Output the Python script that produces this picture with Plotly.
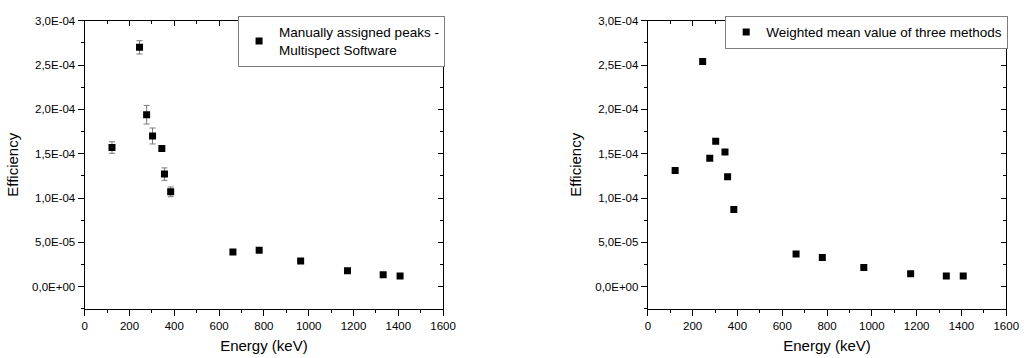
import plotly.graph_objects as go

# ---- data ----
energy_left = [121.8, 244.7, 276.4, 302.9, 344.3, 356.0, 383.8, 661.7, 778.9, 964.1, 1173.2, 1332.5, 1408.0]
eff_left = [1.57e-4, 2.70e-4, 1.94e-4, 1.70e-4, 1.56e-4, 1.27e-4, 1.07e-4, 3.9e-5, 4.1e-5, 2.9e-5, 1.8e-5, 1.35e-5, 1.2e-5]
err_left = [6.5e-6, 7.5e-6, 1.05e-5, 9.0e-6, 2.5e-6, 7.0e-6, 5.5e-6, 1.5e-6, 1.5e-6, 1.2e-6, 1.0e-6, 1.0e-6, 1.0e-6]

energy_right = [121.8, 244.7, 276.4, 302.9, 344.3, 356.0, 383.8, 661.7, 778.9, 964.1, 1173.2, 1332.5, 1408.0]
eff_right = [1.31e-4, 2.54e-4, 1.45e-4, 1.64e-4, 1.52e-4, 1.24e-4, 8.7e-5, 3.7e-5, 3.3e-5, 2.15e-5, 1.45e-5, 1.2e-5, 1.2e-5]

name_left = "Manually assigned peaks -<br>Multispect Software"
name_right = "Weighted mean value of three methods"

y_tickvals = [0, 5e-5, 1e-4, 1.5e-4, 2e-4, 2.5e-4, 3e-4]
y_ticktext = ["0,0E+00", "5,0E-05", "1,0E-04", "1,5E-04", "2,0E-04", "2,5E-04", "3,0E-04"]
x_tickvals = [0, 200, 400, 600, 800, 1000, 1200, 1400, 1600]
x_ticktext = [str(v) for v in x_tickvals]

x_title = "Energy (keV)"
y_title = "Efficiency"

FONT = "Liberation Sans, Arial, sans-serif"
W, H = 1034, 358
xrange_ = [0, 1600]
yrange_ = [-2.5e-5, 3.0e-4]

fig = go.Figure()
fig.add_trace(go.Scatter(
    x=energy_left, y=eff_left, mode="markers", name=name_left,
    marker=dict(symbol="square", size=7, color="black"),
    error_y=dict(type="data", array=err_left, visible=True, color="#7a7a7a", thickness=1, width=3),
    xaxis="x", yaxis="y", legend="legend",
))
fig.add_trace(go.Scatter(
    x=energy_right, y=eff_right, mode="markers", name=name_right,
    marker=dict(symbol="square", size=7, color="black"),
    xaxis="x2", yaxis="y2", legend="legend2",
))

dom_x1 = [83 / W, 447 / W]
dom_x2 = [655 / W, 1019 / W]
dom_y = [(H - 308) / H, (H - 15) / H]

tickfont = dict(family=FONT, size=11.5, color="black")
titlefont = dict(family=FONT, size=15, color="black")


def xax(domain, anchor):
    return dict(domain=domain, anchor=anchor, range=xrange_, tickmode="array",
                tickvals=x_tickvals, ticktext=x_ticktext, ticks="outside", ticklen=6,
                tickwidth=1.2, tickcolor="black", showline=True, linecolor="black", linewidth=1.3,
                showgrid=False, zeroline=False, tickfont=tickfont,
                title=dict(text=x_title, font=titlefont, standoff=9),
                minor=dict(tick0=0, dtick=100, ticks="outside", ticklen=3, tickcolor="black", showgrid=False))


def yax(domain, anchor):
    return dict(domain=domain, anchor=anchor, range=yrange_, tickmode="array",
                tickvals=y_tickvals, ticktext=y_ticktext, ticks="outside", ticklen=6,
                tickwidth=1.2, tickcolor="black", showline=True, linecolor="black", linewidth=1.3,
                showgrid=False, zeroline=False, tickfont=tickfont,
                title=dict(text=y_title, font=titlefont, standoff=9),
                minor=dict(tick0=0, dtick=2.5e-5, ticks="outside", ticklen=3, tickcolor="black", showgrid=False))


def xmirror(over, anchor):
    return dict(overlaying=over, anchor=anchor, side="top", range=xrange_, tickmode="array",
                tickvals=x_tickvals, ticks="inside", ticklen=5, tickcolor="black", tickwidth=1.2,
                showticklabels=False, showline=True, linecolor="black", linewidth=1.3,
                showgrid=False, zeroline=False,
                minor=dict(tick0=0, dtick=100, ticks="inside", ticklen=3, tickcolor="black", showgrid=False))


def ymirror(over, anchor):
    return dict(overlaying=over, anchor=anchor, side="right", range=yrange_, tickmode="array",
                tickvals=y_tickvals, ticks="inside", ticklen=5, tickcolor="black", tickwidth=1.2,
                showticklabels=False, showline=True, linecolor="black", linewidth=1.3,
                showgrid=False, zeroline=False,
                minor=dict(tick0=0, dtick=2.5e-5, ticks="inside", ticklen=3, tickcolor="black", showgrid=False))


# empty traces to activate mirror axes
fig.add_trace(go.Scatter(x=[], y=[], xaxis="x3", yaxis="y3", showlegend=False, hoverinfo="skip"))
fig.add_trace(go.Scatter(x=[], y=[], xaxis="x4", yaxis="y4", showlegend=False, hoverinfo="skip"))

leg_common = dict(xanchor="right", yanchor="top", bgcolor="white", bordercolor="#7f7f7f",
                  borderwidth=1, font=dict(family=FONT, size=13.5, color="black"),
                  itemwidth=30, tracegroupgap=0)

fig.update_layout(
    width=W, height=H,
    margin=dict(l=0, r=0, t=0, b=0),
    paper_bgcolor="white", plot_bgcolor="white",
    font=dict(family=FONT, color="black"),
    xaxis=xax(dom_x1, "y"),
    yaxis=yax(dom_y, "x"),
    xaxis2=xax(dom_x2, "y2"),
    yaxis2=yax(dom_y, "x2"),
    xaxis3=xmirror("x", "y3"),
    yaxis3=ymirror("y", "x3"),
    xaxis4=xmirror("x2", "y4"),
    yaxis4=ymirror("y2", "x4"),
    legend=dict(x=dom_x1[1] + 2 / W, y=dom_y[1] + 5 / H, **leg_common),
    legend2=dict(x=dom_x2[1] + 2 / W, y=dom_y[1] + 5 / H, **leg_common),
    showlegend=True,
)

fig.write_html("out.html")
